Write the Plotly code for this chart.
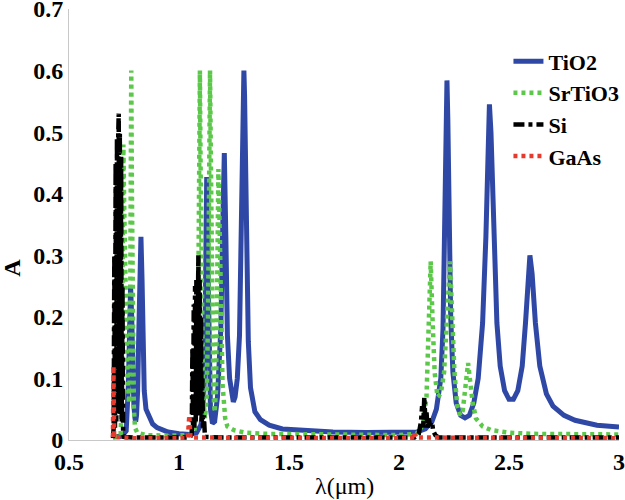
import plotly.graph_objects as go

# ---- data (wavelength in um, absorption A) ----
tio2_x = [0.70, 0.74, 0.76, 0.765, 0.77, 0.775, 0.780, 0.785, 0.790, 0.795, 0.80, 0.803, 0.807,
          0.812, 0.817, 0.822, 0.827, 0.832, 0.837, 0.842, 0.85, 0.86, 0.88, 0.90, 0.95, 1.00,
          1.05, 1.08, 1.10, 1.11, 1.117, 1.122, 1.126, 1.131, 1.136, 1.143, 1.152, 1.162, 1.175,
          1.19, 1.199, 1.206, 1.213, 1.22, 1.23, 1.24, 1.247, 1.255, 1.265, 1.275, 1.285, 1.292,
          1.295, 1.298, 1.305, 1.315, 1.325, 1.345, 1.37, 1.41, 1.47, 1.55, 1.70, 1.85, 2.00,
          2.08, 2.12, 2.15, 2.17, 2.19, 2.20, 2.21, 2.215, 2.218, 2.222, 2.228, 2.235, 2.245,
          2.26, 2.28, 2.30, 2.32, 2.34, 2.36, 2.38, 2.395, 2.405, 2.411, 2.418, 2.43, 2.445,
          2.46, 2.48, 2.50, 2.52, 2.54, 2.56, 2.575, 2.585, 2.595, 2.605, 2.62, 2.64, 2.67,
          2.70, 2.75, 2.80, 2.90, 3.00]
tio2_y = [0.005, 0.006, 0.015, 0.04, 0.09, 0.17, 0.25, 0.20, 0.11, 0.055, 0.035, 0.03, 0.04,
          0.08, 0.17, 0.28, 0.33, 0.26, 0.14, 0.08, 0.05, 0.04, 0.026, 0.02, 0.013, 0.01,
          0.009, 0.012, 0.025, 0.05, 0.12, 0.30, 0.427, 0.30, 0.12, 0.05, 0.027, 0.03, 0.07,
          0.18, 0.35, 0.466, 0.33, 0.17, 0.10, 0.068, 0.062, 0.07, 0.10, 0.17, 0.35, 0.56,
          0.60, 0.56, 0.35, 0.16, 0.085, 0.046, 0.033, 0.024, 0.018, 0.016, 0.013, 0.012, 0.012,
          0.013, 0.018, 0.03, 0.05, 0.10, 0.18, 0.36, 0.52, 0.584, 0.52, 0.35, 0.20, 0.11,
          0.06, 0.04, 0.036, 0.04, 0.06, 0.10, 0.19, 0.33, 0.50, 0.545, 0.50, 0.33, 0.19,
          0.12, 0.08, 0.066, 0.066, 0.08, 0.12, 0.19, 0.26, 0.30, 0.27, 0.19, 0.12, 0.075,
          0.055, 0.04, 0.032, 0.024, 0.021]

srtio3_x = [0.70, 0.73, 0.735, 0.740, 0.744, 0.747, 0.751, 0.756, 0.762, 0.768, 0.773, 0.777,
            0.780, 0.783, 0.786, 0.790, 0.795, 0.80, 0.81, 0.85, 0.95, 1.05, 1.07, 1.08, 1.087,
            1.092, 1.095, 1.098, 1.103, 1.11, 1.118, 1.126, 1.132, 1.137, 1.141, 1.145, 1.15,
            1.156, 1.162, 1.168, 1.172, 1.176, 1.179, 1.183, 1.19, 1.198, 1.21, 1.22, 1.25, 1.30,
            1.40, 1.60, 1.80, 2.00, 2.08, 2.11, 2.125, 2.135, 2.144, 2.152, 2.162, 2.175, 2.19,
            2.205, 2.218, 2.232, 2.242, 2.252, 2.265, 2.278, 2.29, 2.30, 2.308, 2.314, 2.322,
            2.335, 2.35, 2.38, 2.42, 2.50, 2.60, 2.80, 3.00]
srtio3_y = [0.005, 0.006, 0.01, 0.08, 0.30, 0.48, 0.38, 0.25, 0.15, 0.09, 0.06, 0.12,
            0.35, 0.60, 0.40, 0.15, 0.05, 0.02, 0.012, 0.008, 0.007, 0.008, 0.015, 0.05, 0.20,
            0.45, 0.60, 0.45, 0.20, 0.07, 0.035, 0.07, 0.20, 0.45, 0.60, 0.45, 0.22,
            0.08, 0.045, 0.08, 0.20, 0.38, 0.44, 0.38, 0.20, 0.09, 0.035, 0.022, 0.016, 0.012,
            0.01, 0.009, 0.008, 0.008, 0.01, 0.025, 0.07, 0.17, 0.29, 0.20, 0.11, 0.07, 0.075,
            0.11, 0.19, 0.29, 0.20, 0.11, 0.055, 0.04, 0.048, 0.075, 0.11, 0.125, 0.10,
            0.06, 0.035, 0.022, 0.016, 0.012, 0.01, 0.009, 0.009]

si_x = [0.70, 0.703, 0.706, 0.709, 0.712, 0.715, 0.718, 0.721, 0.724, 0.726, 0.728, 0.731,
        0.734, 0.737, 0.740, 0.743, 0.746, 0.75, 0.80, 1.05, 1.058, 1.061, 1.064, 1.067, 1.070,
        1.073, 1.076, 1.079, 1.082, 1.085, 1.088, 1.091, 1.094, 1.097, 1.100, 1.103, 1.106,
        1.109, 1.113, 1.118, 1.20, 2.07, 2.09, 2.10, 2.105, 2.11, 2.115, 2.12, 2.125, 2.13,
        2.135, 2.14, 2.15, 2.155, 2.165, 2.18, 3.00]
si_y = [0.003, 0.02, 0.30, 0.02, 0.45, 0.03, 0.49, 0.04, 0.50, 0.53, 0.05, 0.50,
        0.04, 0.46, 0.03, 0.25, 0.01, 0.005, 0.004, 0.004, 0.01, 0.15, 0.02, 0.22, 0.02,
        0.25, 0.03, 0.26, 0.04, 0.27, 0.30, 0.05, 0.26, 0.04, 0.20, 0.03, 0.10,
        0.02, 0.04, 0.005, 0.004, 0.004, 0.01, 0.03, 0.055, 0.02, 0.07, 0.03, 0.045, 0.02,
        0.035, 0.025, 0.03, 0.015, 0.008, 0.004, 0.004]

gaas_x = [0.700, 0.702, 0.705, 0.80, 1.04, 1.047, 1.052, 2.00, 2.06, 2.068, 2.075, 3.00]
gaas_y = [0.005, 0.12, 0.005, 0.003, 0.003, 0.04, 0.004, 0.003, 0.004, 0.012, 0.004, 0.003]

x_ticks = [0.5, 1, 1.5, 2, 2.5, 3]
x_tick_text = ["0.5", "1", "1.5", "2", "2.5", "3"]
y_ticks = [0, 0.1, 0.2, 0.3, 0.4, 0.5, 0.6, 0.7]
y_tick_text = ["0", "0.1", "0.2", "0.3", "0.4", "0.5", "0.6", "0.7"]

SERIF = "Liberation Serif"

fig = go.Figure()
fig.add_trace(go.Scatter(x=tio2_x, y=tio2_y, mode="lines", name="TiO2",
                         line=dict(color="#2f48a6", width=5)))
fig.add_trace(go.Scatter(x=srtio3_x, y=srtio3_y, mode="lines", name="SrTiO3",
                         line=dict(color="#5cc84a", width=4.5, dash="4px,4px")))
fig.add_trace(go.Scatter(x=si_x, y=si_y, mode="lines", name="Si",
                         line=dict(color="black", width=4.5, dash="11px,4px,4px,4px")))
fig.add_trace(go.Scatter(x=gaas_x, y=gaas_y, mode="lines", name="GaAs",
                         line=dict(color="#e53a2e", width=4.5, dash="4px,4px")))

tick_font = dict(family=SERIF, size=24, color="black", weight="bold")
fig.update_xaxes(range=[0.5, 3], tickvals=x_ticks, ticktext=x_tick_text, automargin=False,
                 showgrid=False, zeroline=False, showline=True, linecolor="#c8c8c8",
                 linewidth=1, ticks="", ticklabeloverflow="allow", tickfont=tick_font)
fig.update_yaxes(range=[0, 0.7], tickvals=y_ticks, ticktext=y_tick_text, automargin=False,
                 showgrid=False, zeroline=False, showline=True, linecolor="#c8c8c8",
                 linewidth=1, ticks="", ticklabeloverflow="allow", tickfont=tick_font)

# axis titles placed as annotations so they sit where the original has them
fig.add_annotation(text="λ(μm)", xref="paper", yref="paper", x=0.5, y=-0.107,
                   xanchor="center", yanchor="middle", showarrow=False,
                   font=dict(family=SERIF, size=24, color="black"))
fig.add_annotation(text="<b>A</b>", xref="paper", yref="paper", x=-0.105, y=0.4,
                   xanchor="center", yanchor="middle", showarrow=False, textangle=-90,
                   font=dict(family=SERIF, size=24, color="black"))

fig.update_layout(
    width=625, height=500,
    # legend runs off the right edge like in the original; keep the plot area fixed
    margin=dict(l=69, r=6, t=9, b=60, autoexpand=False),
    plot_bgcolor="white", paper_bgcolor="white",
    showlegend=True,
    legend=dict(x=0.799, y=0.927, xanchor="left", yanchor="top",
                bgcolor="rgba(0,0,0,0)", tracegroupgap=0, itemwidth=30,
                font=dict(family=SERIF, size=22, color="black", weight="bold")),
)

# drop the default page margin so the figure sits at the window's corner
fig.write_html("out.html", config={"displayModeBar": False},
               post_script="document.body.style.margin='0';")
